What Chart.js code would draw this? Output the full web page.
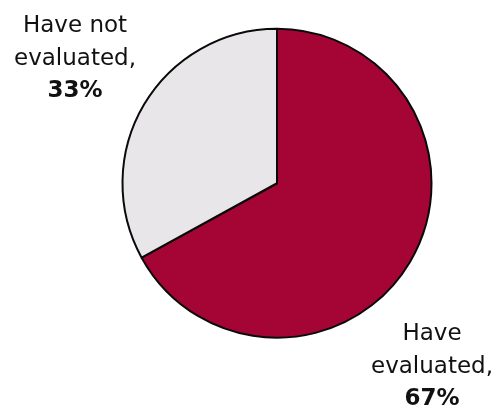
<!DOCTYPE html>
<html>
<head>
<meta charset="UTF-8">
<script src="https://cdn.jsdelivr.net/npm/chart.js"></script>
<style>
  html, body { margin: 0; padding: 0; background: #fff; }
  #wrap { width: 503px; height: 407px; }
</style>
</head>
<body>
<div id="wrap"><canvas id="pie"></canvas></div>
<script>
const categories = [['Have', 'evaluated,'], ['Have not', 'evaluated,']];
const shares = [67, 33];
const colors = ['#A50534', '#E8E6E9'];

// label positions (line centre x, first baseline y)
const labelSpots = [{ x: 432, y: 340 }, { x: 75, y: 32 }];

const labelPlugin = {
  id: 'sliceLabels',
  afterDraw(chart) {
    const ctx = chart.ctx;
    ctx.save();
    ctx.fillStyle = '#111';
    ctx.textAlign = 'center';
    ctx.textBaseline = 'alphabetic';
    categories.forEach((lines, i) => {
      const p = labelSpots[i];
      ctx.font = '23px "DejaVu Sans"';
      lines.forEach((t, k) => ctx.fillText(t, p.x, p.y + k * 32.5));
      ctx.font = 'bold 23px "DejaVu Sans"';
      ctx.fillText(shares[i] + '%', p.x, p.y + lines.length * 32.5);
    });
    ctx.restore();
  }
};

new Chart(document.getElementById('pie'), {
  type: 'pie',
  data: {
    labels: categories.map(l => l.join(' ')),
    datasets: [{
      data: shares,
      backgroundColor: colors,
      borderColor: '#0a0a0a',
      borderWidth: 2
    }]
  },
  options: {
    responsive: true,
    maintainAspectRatio: false,
    animation: false,
    layout: { padding: { left: 121.5, right: 70.5, top: 27.5, bottom: 68 } },
    plugins: { legend: { display: false }, tooltip: { enabled: false } }
  },
  plugins: [labelPlugin]
});
</script>
</body>
</html>
